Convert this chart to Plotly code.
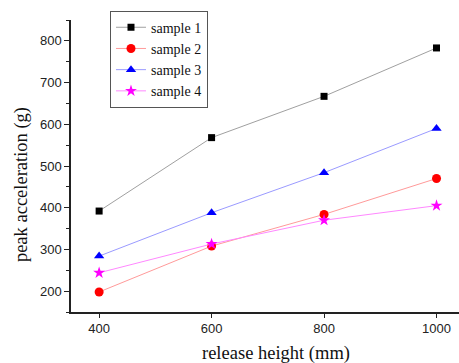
import plotly.graph_objects as go

heights = [400, 600, 800, 1000]
sample1 = [392, 568, 667, 783]
sample2 = [198, 308, 384, 470]
sample3 = [284, 388, 484, 590]
sample4 = [244, 313, 370, 405]

names = ["sample 1", "sample 2", "sample 3", "sample 4"]
series = [sample1, sample2, sample3, sample4]
line_colors = ["#a0a0a0", "#ff9a9a", "#9a9aff", "#ff88ff"]
marker_colors = ["#000000", "#ff0000", "#0000ff", "#ff00ff"]
symbols = ["square", "circle", "triangle-up", "star"]
sizes = [7, 9, 9, 9]

x_title = "release height (mm)"
y_title = "peak acceleration (g)"

fig = go.Figure()
for n, s, lc, mc, sym, sz in zip(names, series, line_colors, marker_colors, symbols, sizes):
    fig.add_trace(go.Scatter(
        x=heights, y=s, name=n, mode="lines+markers",
        line=dict(color=lc, width=1),
        marker=dict(symbol=sym, size=sz, color=mc, line=dict(width=0)),
    ))

serif = "Liberation Serif"
sans = "Liberation Sans"

fig.update_layout(
    width=459, height=363,
    margin=dict(l=71, r=0, t=20, b=51, autoexpand=False),
    plot_bgcolor="white", paper_bgcolor="white",
    showlegend=True,
    legend=dict(
        x=0.1005, y=1.032, xanchor="left", yanchor="top",
        bordercolor="#555555", borderwidth=1,
        font=dict(family=serif, size=14, color="#111111"),
        bgcolor="white", tracegroupgap=0,
    ),
    xaxis=dict(
        range=[350, 1040], tickvals=heights, ticktext=[str(h) for h in heights],
        showgrid=False, zeroline=False, automargin=False,
        showline=True, linecolor="#222222", linewidth=1.5,
        ticks="outside", ticklen=4, tickwidth=1, tickcolor="#222222",
        tickfont=dict(family=sans, size=13, color="#222222"),
    ),
    yaxis=dict(
        range=[150, 850], tickvals=[200, 300, 400, 500, 600, 700, 800],
        showgrid=False, zeroline=False, automargin=False,
        showline=True, linecolor="#222222", linewidth=1.5,
        ticks="outside", ticklen=5, tickwidth=1, tickcolor="#222222",
        tickfont=dict(family=sans, size=13, color="#222222"),
        minor=dict(tickvals=[150, 250, 350, 450, 550, 650, 750, 850], ticks="outside", ticklen=3, tickcolor="#222222", tickwidth=1),
    ),
    annotations=[
        dict(text=x_title, xref="paper", yref="paper", x=0.528, y=-0.1438,
             xanchor="center", yanchor="middle", showarrow=False,
             font=dict(family=serif, size=18.5, color="#111111")),
        dict(text=y_title, xref="paper", yref="paper", x=-0.1289, y=0.438,
             xanchor="center", yanchor="middle", showarrow=False, textangle=-90,
             font=dict(family=serif, size=18.5, color="#111111")),
    ],
)

fig.write_html("out.html", config={"displayModeBar": False},
               post_script="document.body.style.margin='0px';")
